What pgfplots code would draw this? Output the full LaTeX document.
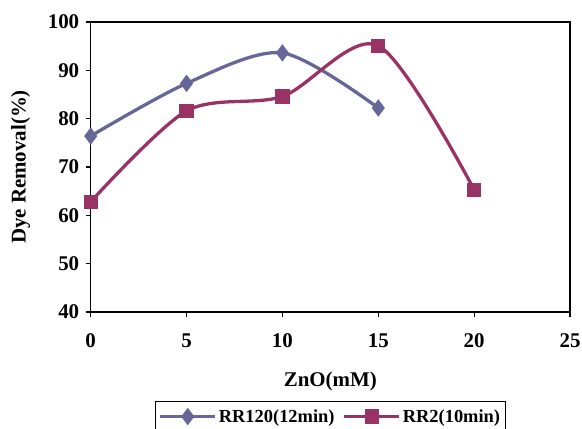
\documentclass[border=0pt]{standalone}
\usepackage{fontspec}
\setmainfont{Liberation Serif}
\usepackage{pgfplots}
\pgfplotsset{compat=1.18}
\definecolor{rrblue}{HTML}{666699}
\definecolor{rrred}{HTML}{993366}
\begin{document}
\begin{tikzpicture}
\useasboundingbox (-90.7bp,-117bp) rectangle (491.3bp,312bp);
\begin{axis}[
    at={(0,0)}, anchor=south west,
    scale only axis,
    width=479.3bp, height=290bp,
    xmin=0, xmax=25, ymin=40, ymax=100,
    xtick={0,5,...,25}, ytick={40,50,...,100},
    tick pos=left,
    tick align=outside, major tick length=5bp,
    tick style={black, line width=1.2bp},
    axis line style={black, line width=1.6bp},
    /pgf/number format/assume math mode=true,
    ticklabel style={font=\bfseries\fontsize{21}{23}\selectfont},
    xticklabel style={yshift=-13bp},
    yticklabel style={xshift=-3bp},
    xlabel={ZnO(mM)},
    ylabel={Dye Removal(\%)},
    label style={font=\bfseries\fontsize{21}{23}\selectfont},
    xlabel style={at={(axis description cs:0.5,-0.241)}, anchor=center},
    ylabel style={at={(axis description cs:-0.146,0.5)}, anchor=center},
    legend style={at={(0.5,0)}, anchor=north, yshift=-89bp,
        legend columns=-1, draw=black, line width=0.8bp,
        font=\bfseries\fontsize{18.5}{20}\selectfont,
        inner xsep=3bp, inner ysep=6bp,
        /tikz/every even column/.append style={column sep=6bp}},
    legend image code/.code={\draw[mark repeat=2, mark phase=2] plot coordinates {(0cm,0cm) (0.97cm,0cm) (1.94cm,0cm)};},
    clip=false,
]
\addplot[rrblue, line width=3.3bp, smooth, mark=diamond*, mark size=6bp,
    mark options={solid, fill=rrblue}]
    coordinates {(0,76.4) (5,87.3) (10,93.6) (15,82.2)};
\addplot[rrred, line width=3.3bp, smooth, mark=square*, mark size=5.5bp,
    mark options={solid, fill=rrred}]
    coordinates {(0,62.8) (5,81.6) (10,84.6) (15,95.1) (20,65.3)};
\legend{RR120(12min),RR2(10min)}
\end{axis}
\end{tikzpicture}
\end{document}
